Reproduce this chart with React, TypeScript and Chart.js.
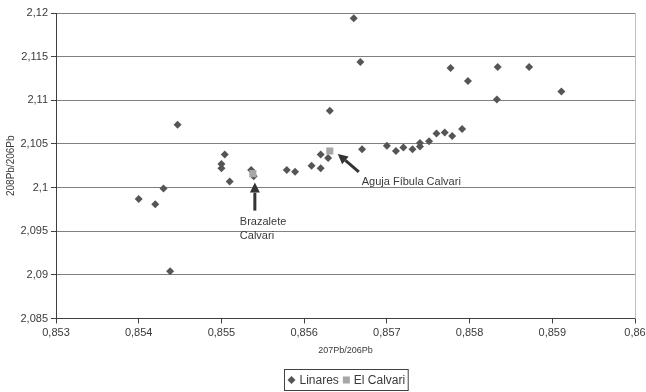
import { useEffect, useRef } from "react";
import { Chart, registerables } from "chart.js";

Chart.register(...registerables);

// Lead isotope ratios: 207Pb/206Pb (x) and 208Pb/206Pb (y)
const linaresX = [
  0.854, 0.8542, 0.8543, 0.85438, 0.85447, 0.85504, 0.855, 0.855, 0.8551,
  0.85536, 0.85539, 0.85579, 0.85589, 0.85609, 0.8562, 0.8562, 0.85629,
  0.85631, 0.8566, 0.85668, 0.8567, 0.857, 0.85711, 0.8572, 0.85731,
  0.8574, 0.8574, 0.85751, 0.8576, 0.8577, 0.85779, 0.85791, 0.85777,
  0.85798, 0.85834, 0.85833, 0.85872, 0.85911,
];
const linaresY = [
  2.0987, 2.0981, 2.0999, 2.0904, 2.1072, 2.1038, 2.1027, 2.1022, 2.1007,
  2.102, 2.1013, 2.102, 2.1018, 2.1025, 2.1022, 2.1038, 2.1034,
  2.1088, 2.1194, 2.1144, 2.1044, 2.1048, 2.1042, 2.1046, 2.1044,
  2.1047, 2.1051, 2.1053, 2.1062, 2.1063, 2.1059, 2.1067, 2.1137,
  2.1122, 2.1138, 2.1101, 2.1138, 2.111,
];
const calvariX = [0.85538, 0.85631];
const calvariY = [2.1016, 2.1042];

const seriesNames = ["Linares", "El Calvari"];
const xTickValues = [0.853, 0.854, 0.855, 0.856, 0.857, 0.858, 0.859, 0.86];
const yTickValues = [2.085, 2.09, 2.095, 2.1, 2.105, 2.11, 2.115, 2.12];
const xTitle = "207Pb/206Pb";
const yTitle = "208Pb/206Pb";
const calloutTexts = [["Brazalete", "Calvari"], ["Aguja Fíbula Calvari"]];

const FONT = '"Liberation Sans", Arial, sans-serif';
const TEXT = "#3a3a3a";
const DARK = "#404040";
const LINARES_COLOR = "#555555";
const CALVARI_COLOR = "#a6a6a6";

// Arrow callouts pointing at the El Calvari samples (offsets in px from the point)
const callouts = [
  { point: 0, tip: [2, 9], tail: [2, 37], text: [-13, 48], lineGap: 14 },
  { point: 1, tip: [8, 3], tail: [29, 21], text: [32, 31], lineGap: 14 },
];

const fmt = (v: number) => String(v).replace(".", ",");

function drawArrow(ctx: CanvasRenderingContext2D, x1: number, y1: number, x2: number, y2: number) {
  const ang = Math.atan2(y2 - y1, x2 - x1);
  const head = 10;
  const half = 5;
  const bx = x2 - head * Math.cos(ang);
  const by = y2 - head * Math.sin(ang);
  ctx.strokeStyle = "#333333";
  ctx.fillStyle = "#333333";
  ctx.lineWidth = 3;
  ctx.beginPath();
  ctx.moveTo(x1, y1);
  ctx.lineTo(bx, by);
  ctx.stroke();
  ctx.beginPath();
  ctx.moveTo(x2, y2);
  ctx.lineTo(bx - half * Math.sin(ang), by + half * Math.cos(ang));
  ctx.lineTo(bx + half * Math.sin(ang), by - half * Math.cos(ang));
  ctx.closePath();
  ctx.fill();
}

const overlayPlugin = {
  id: "overlay",
  beforeDatasetsDraw(chart: any) {
    const { ctx, chartArea } = chart;
    ctx.save();
    ctx.strokeStyle = "#bfbfbf";
    ctx.lineWidth = 1;
    const rx = Math.round(chartArea.right) + 0.5;
    ctx.beginPath();
    ctx.moveTo(rx, chartArea.top);
    ctx.lineTo(rx, chartArea.bottom);
    ctx.stroke();
    ctx.restore();
  },
  afterDraw(chart: any) {
    const { ctx, chartArea, scales } = chart;
    ctx.save();

    // callouts
    ctx.font = `11px ${FONT}`;
    callouts.forEach((c, i) => {
      const px = scales.x.getPixelForValue(calvariX[c.point]);
      const py = scales.y.getPixelForValue(calvariY[c.point]);
      drawArrow(ctx, px + c.tail[0], py + c.tail[1], px + c.tip[0], py + c.tip[1]);
      ctx.fillStyle = TEXT;
      ctx.textAlign = "left";
      ctx.textBaseline = "middle";
      calloutTexts[i].forEach((line, k) => {
        ctx.fillText(line, px + c.text[0], py + c.text[1] + k * c.lineGap);
      });
    });

    // legend box
    ctx.font = `12px ${FONT}`;
    const w1 = ctx.measureText(seriesNames[0]).width;
    const w2 = ctx.measureText(seriesNames[1]).width;
    const total = 3 + 8 + 4 + w1 + 4 + 7 + 4 + w2 + 3;
    const cx = (chartArea.left + chartArea.right) / 2;
    const left = Math.round(cx - total / 2) + 0.5;
    const top = chart.height - 23 + 0.5;
    const h = 21;
    ctx.strokeStyle = DARK;
    ctx.lineWidth = 1;
    ctx.strokeRect(left, top, total, h);
    const my = top + h / 2;
    let x = left + 3;
    ctx.fillStyle = LINARES_COLOR;
    ctx.beginPath();
    ctx.moveTo(x + 4, my - 4);
    ctx.lineTo(x + 8, my);
    ctx.lineTo(x + 4, my + 4);
    ctx.lineTo(x, my);
    ctx.closePath();
    ctx.fill();
    x += 8 + 4;
    ctx.fillStyle = TEXT;
    ctx.textAlign = "left";
    ctx.textBaseline = "middle";
    ctx.fillText(seriesNames[0], x, my + 0.5);
    x += w1 + 4;
    ctx.fillStyle = CALVARI_COLOR;
    ctx.fillRect(x, my - 3.5, 7, 7);
    x += 7 + 4;
    ctx.fillStyle = TEXT;
    ctx.fillText(seriesNames[1], x, my + 0.5);

    ctx.restore();
  },
};

export default function App() {
  const canvasRef = useRef<HTMLCanvasElement | null>(null);

  useEffect(() => {
    if (!canvasRef.current) return;
    const chart = new Chart(canvasRef.current, {
      type: "scatter",
      data: {
        datasets: [
          {
            label: seriesNames[0],
            order: 2,
            data: linaresX.map((v, i) => ({ x: v, y: linaresY[i] })),
            pointStyle: "rectRot",
            pointRadius: 4,
            pointBackgroundColor: LINARES_COLOR,
            pointBorderColor: LINARES_COLOR,
            pointBorderWidth: 0,
          },
          {
            label: seriesNames[1],
            order: 1,
            data: calvariX.map((v, i) => ({ x: v, y: calvariY[i] })),
            pointStyle: "rect",
            pointRadius: 5,
            pointBackgroundColor: CALVARI_COLOR,
            pointBorderColor: CALVARI_COLOR,
            pointBorderWidth: 0,
          },
        ],
      },
      options: {
        responsive: false,
        animation: false,
        devicePixelRatio: 1,
        layout: { padding: { left: 0, top: 13, right: 11, bottom: 0 } },
        plugins: {
          legend: { display: false },
          tooltip: { enabled: false },
        },
        scales: {
          x: {
            type: "linear",
            min: 0.853,
            max: 0.86,
            afterBuildTicks: (s: any) => {
              s.ticks = xTickValues.map((v) => ({ value: v }));
            },
            afterFit: (s: any) => {
              s.height = 73.5;
              s.paddingLeft = 0;
              s.paddingRight = 0;
            },
            border: { color: DARK, width: 1 },
            grid: {
              drawOnChartArea: false,
              drawTicks: true,
              tickLength: 5,
              tickColor: DARK,
            },
            ticks: {
              padding: 3,
              maxRotation: 0,
              autoSkip: false,
              color: TEXT,
              font: { family: FONT, size: 11 },
              callback: (v: any) => fmt(Number(v)),
            },
            title: {
              display: true,
              text: xTitle,
              color: TEXT,
              font: { family: FONT, size: 9 },
              padding: { top: 0, bottom: 36 },
            },
          },
          y: {
            type: "linear",
            min: 2.085,
            max: 2.12,
            afterBuildTicks: (s: any) => {
              s.ticks = yTickValues.map((v) => ({ value: v }));
            },
            afterFit: (s: any) => {
              s.width = 56;
              s.paddingTop = 0;
              s.paddingBottom = 0;
            },
            border: { color: DARK, width: 1 },
            grid: {
              color: "#808080",
              lineWidth: 1,
              drawTicks: true,
              tickLength: 5,
              tickColor: DARK,
            },
            ticks: {
              padding: 3,
              autoSkip: false,
              color: TEXT,
              font: { family: FONT, size: 11 },
              callback: (v: any) => fmt(Number(v)),
            },
            title: {
              display: true,
              text: yTitle,
              color: TEXT,
              font: { family: FONT, size: 10 },
              padding: { top: 5, bottom: 0 },
            },
          },
        },
      },
      plugins: [overlayPlugin],
    });
    return () => chart.destroy();
  }, []);

  return (
    <div style={{ position: "absolute", left: 0, top: 0, width: 646, height: 392, background: "#fff" }}>
      <canvas ref={canvasRef} width={646} height={392} style={{ display: "block" }} />
    </div>
  );
}
